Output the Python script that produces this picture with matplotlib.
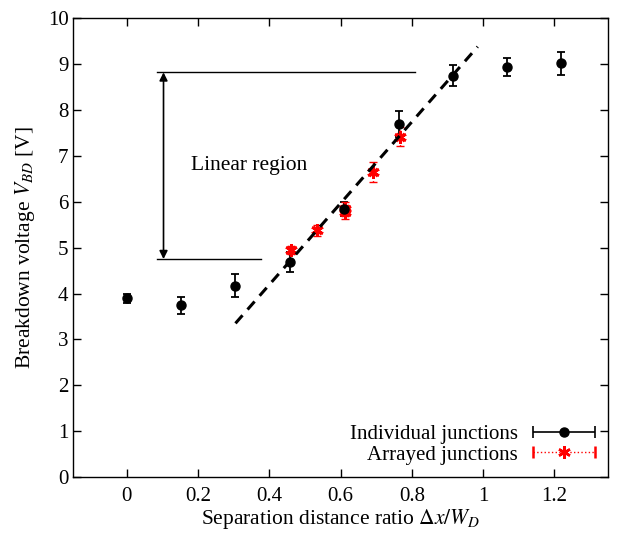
import matplotlib.pyplot as plt
import numpy as np
from matplotlib.legend_handler import HandlerErrorbar

plt.rcParams['font.family'] = 'Liberation Serif'
plt.rcParams['mathtext.fontset'] = 'stix'

# individual junctions
ind_x = [0.0, 0.152, 0.305, 0.457, 0.61, 0.763, 0.915, 1.068, 1.22]
ind_y = [3.9, 3.74, 4.17, 4.68, 5.85, 7.7, 8.75, 8.93, 9.02]
ind_err = [0.1, 0.18, 0.25, 0.22, 0.15, 0.28, 0.22, 0.2, 0.25]

# arrayed junctions
arr_x = [0.46, 0.535, 0.612, 0.612, 0.69, 0.767]
arr_y = [4.95, 5.38, 5.85, 5.78, 6.65, 7.42]
arr_err = [0.08, 0.12, 0.15, 0.15, 0.22, 0.2]

# linear fit guide
fit_x = [0.305, 0.985]
fit_y = [3.35, 9.38]

fig = plt.figure(figsize=(6.22, 5.36), dpi=100)
ax = fig.add_axes([0.118, 0.110, 0.859, 0.856])

ax.errorbar(ind_x, ind_y, yerr=ind_err, fmt='o', color='black', ms=6.5,
            capsize=3, elinewidth=1.3, capthick=1.3)
eb = ax.errorbar(arr_x, arr_y, yerr=arr_err, fmt='none', ecolor='red',
                 capsize=3, elinewidth=1, capthick=1)
eb[2][0].set_linestyle(':')
for xx, yy in zip(arr_x, arr_y):
    ax.plot(xx, yy, marker=(6, 2, 0), color='red', ms=9, mew=1.8)
    ax.plot(xx, yy, marker='x', color='red', ms=6, mew=1.8)

ax.plot(fit_x, fit_y, '--', color='black', lw=2.2, dashes=(3.5, 2.5))

# legend proxies (horizontal error bars)
p1 = ax.errorbar([np.nan], [np.nan], xerr=[0.1], fmt='o', color='black', ms=6.5,
                 capsize=4, elinewidth=1.2, capthick=1.2)
p2 = ax.errorbar([np.nan], [np.nan], xerr=[0.1], marker=(6, 2, 0), ls='none',
                 color='red', ms=9, mew=1.8, ecolor='red', capsize=4,
                 elinewidth=1, capthick=0.6)
p2[2][0].set_linestyle(':')

# annotation lines
ax.plot([0.085, 0.81], [8.82, 8.82], color='black', lw=1)
ax.plot([0.085, 0.378], [4.75, 4.75], color='black', lw=1)
ax.annotate('', xy=(0.103, 8.82), xytext=(0.103, 4.75),
            arrowprops=dict(arrowstyle='<|-|>', color='black', lw=1.2,
                            mutation_scale=12, shrinkA=0, shrinkB=0))
ax.text(0.18, 6.78, 'Linear region', fontsize=15.5, va='center')

ax.set_xlim(-0.15, 1.35)
ax.set_ylim(0, 10)
ax.set_xticks([0, 0.2, 0.4, 0.6, 0.8, 1, 1.2])
ax.set_xticklabels(['0', '0.2', '0.4', '0.6', '0.8', '1', '1.2'])
ax.set_yticks(range(0, 11))
ax.tick_params(direction='in', top=True, right=True, labelsize=15, length=6, width=1)
ax.tick_params(axis='x', pad=7)
for s in ax.spines.values():
    s.set_linewidth(1)

ax.set_xlabel(r'Separation distance ratio $\Delta x/W_D$', fontsize=15.5, labelpad=1)
ax.set_ylabel(r'Breakdown voltage $V_{BD}$ [V]', fontsize=15.5, labelpad=8)

ax.legend([p1, p2], ['Individual junctions', 'Arrayed junctions'],
          loc='lower right', frameon=False, markerfirst=False, fontsize=15,
          handlelength=3.0, borderaxespad=0.2, labelspacing=0.05, handletextpad=0.7,
          handler_map={type(p1): HandlerErrorbar(xerr_size=1.5)})

fig.savefig('out.png', dpi=100)
